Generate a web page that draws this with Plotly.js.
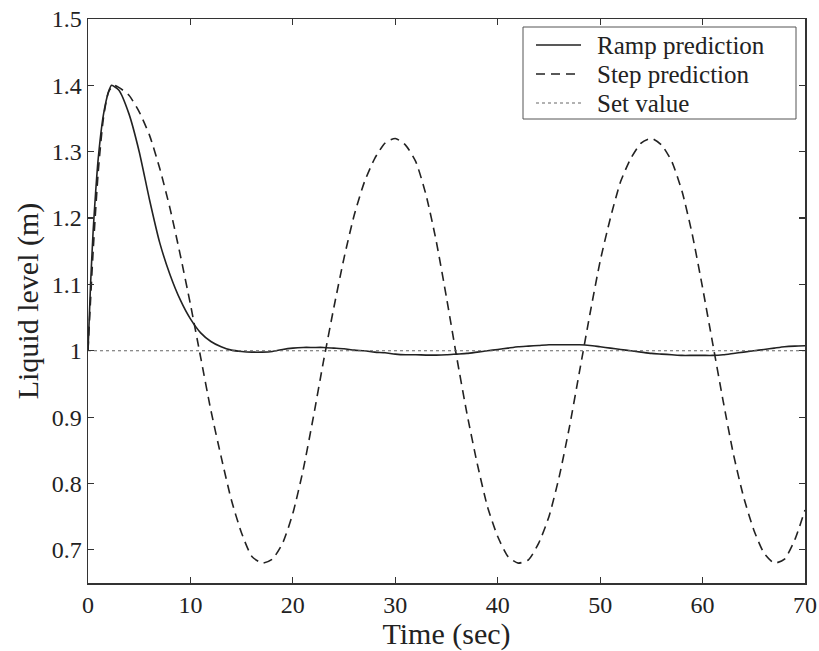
<!DOCTYPE html>
<html>
<head>
<meta charset="utf-8">
<script src="https://cdn.plot.ly/plotly-3.0.1.min.js"></script>
<style>html,body{margin:0;padding:0;background:#fff;}#chart{width:819px;height:651px;}</style>
</head>
<body>
<div id="chart"></div>
<script>
// Ramp prediction (time in sec, liquid level in m)
const rampTime = [0,0.25,0.5,0.75,1,1.5,2,2.3,3,4,5,6,7,8,9,10,11,12,13,14,15,16,17,18,19,20,21,22,23,24,25,26,27,28,29,30,31,32,33,34,35,36,37,38,39,40,41,42,43,44,45,46,47,48,49,50,51,52,53,54,55,56,57,58,59,60,61,62,63,64,65,66,67,68,69,70];
const rampLevel = [1.0,1.10,1.18,1.24,1.29,1.355,1.39,1.40,1.393,1.357,1.30,1.228,1.163,1.115,1.077,1.048,1.027,1.014,1.006,1.001,0.999,0.998,0.998,0.999,1.002,1.004,1.005,1.005,1.005,1.004,1.003,1.001,1.0,0.998,0.997,0.995,0.994,0.994,0.9935,0.9935,0.994,0.995,0.996,0.998,1.0,1.002,1.004,1.006,1.007,1.008,1.009,1.009,1.009,1.009,1.008,1.006,1.004,1.002,1.0,0.998,0.996,0.995,0.994,0.993,0.993,0.993,0.993,0.994,0.996,0.998,1.0,1.002,1.004,1.006,1.007,1.0075];

// Step prediction
const stepTime = [0,0.5,1,1.5,2,2.5,3,4,5,6,7,8,9,10,11,12,13,14,15,16,17,18,19,20,21,22,23,24,25,26,27,28,29,30,31,32,33,34,35,36,37,38,39,40,41,42,43,44,45,46,47,48,49,50,51,52,53,54,55,56,57,58,59,60,61,62,63,64,65,66,67,68,69,70];
const stepLevel = [1.0,1.15,1.27,1.35,1.39,1.40,1.397,1.385,1.36,1.325,1.275,1.215,1.145,1.07,0.99,0.91,0.84,0.775,0.725,0.69,0.68,0.686,0.71,0.755,0.82,0.90,0.985,1.065,1.14,1.205,1.255,1.29,1.313,1.32,1.31,1.285,1.235,1.165,1.08,0.99,0.905,0.83,0.765,0.72,0.69,0.68,0.685,0.71,0.75,0.81,0.885,0.97,1.055,1.135,1.20,1.255,1.29,1.313,1.32,1.31,1.285,1.24,1.175,1.095,1.01,0.925,0.845,0.78,0.73,0.695,0.68,0.686,0.715,0.76];

// Set value
const setTime = [0,70];
const setLevel = [1,1];

const xTicks = [0,10,20,30,40,50,60,70];
const yTicks = [0.7,0.8,0.9,1,1.1,1.2,1.3,1.4,1.5];
const seriesNames = ['Ramp prediction','Step prediction','Set value'];

const font = 'Liberation Serif';
const ink = '#222';

const lineStyles = [
  {color: ink, width: 1.6},
  {color: ink, width: 1.6, dash: '9px,6px'},
  {color: '#666', width: 1.1, dash: 'dot'}
];

const traces = [
  {x: rampTime, y: rampLevel, name: seriesNames[0], mode: 'lines', line: Object.assign({shape: 'spline', smoothing: 0.6}, lineStyles[0])},
  {x: stepTime, y: stepLevel, name: seriesNames[1], mode: 'lines', line: Object.assign({shape: 'spline', smoothing: 0.6}, lineStyles[1])},
  {x: setTime, y: setLevel, name: seriesNames[2], mode: 'lines', line: lineStyles[2]}
];

// Legend drawn in pixel terms of the plot area (paper coords)
const W = 819, H = 651, mL = 88, mR = 14, mT = 19, mB = 68;
const pw = W - mL - mR, ph = H - mT - mB;
const px = v => (v - mL) / pw;
const py = v => (H - mB - v) / ph;

const shapes = [
  {type: 'rect', xref: 'paper', yref: 'paper', x0: px(523), x1: px(796), y0: py(119), y1: py(27),
   line: {color: '#555', width: 1}, fillcolor: '#fff', layer: 'above'}
];
const rowY = [45, 74, 103];
const annotations = [];
seriesNames.forEach((n, i) => {
  shapes.push({type: 'line', xref: 'paper', yref: 'paper', x0: px(536), x1: px(581), y0: py(rowY[i]), y1: py(rowY[i]),
    line: lineStyles[i], layer: 'above'});
  annotations.push({xref: 'paper', yref: 'paper', x: px(595), y: py(rowY[i] + 0.5), xanchor: 'left', yanchor: 'middle',
    text: n, showarrow: false, font: {family: font, size: 25, color: ink}});
});

const axisCommon = {
  showgrid: false, zeroline: false, showline: true, linecolor: '#333', linewidth: 1.5,
  mirror: 'ticks', ticks: 'inside', ticklen: 6, tickwidth: 1.2, tickcolor: '#333',
  tickfont: {family: font, size: 24, color: ink}
};

const layout = {
  width: W, height: H,
  margin: {l: mL, r: mR, t: mT, b: mB},
  paper_bgcolor: '#fff', plot_bgcolor: '#fff',
  font: {family: font, color: ink, size: 24},
  showlegend: false,
  shapes: shapes,
  annotations: annotations,
  xaxis: Object.assign({}, axisCommon, {
    range: [0, 70], tickvals: xTicks, ticktext: xTicks.map(String),
    title: {text: 'Time (sec)', font: {family: font, size: 30, color: ink}, standoff: 0}
  }),
  yaxis: Object.assign({}, axisCommon, {
    range: [0.65, 1.5], tickvals: yTicks, ticktext: yTicks.map(String),
    title: {text: 'Liquid level (m)', font: {family: font, size: 30, color: ink}, standoff: 4}
  })
};

Plotly.newPlot('chart', traces, layout, {displayModeBar: false, staticPlot: true});
</script>
</body>
</html>
